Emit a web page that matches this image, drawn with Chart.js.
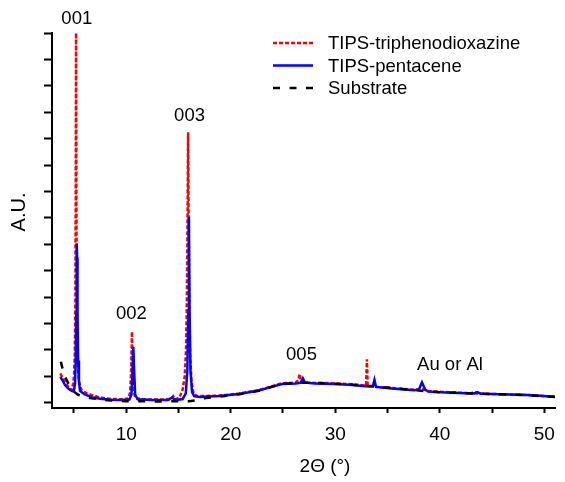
<!DOCTYPE html>
<html>
<head>
<meta charset="utf-8">
<script src="https://cdn.jsdelivr.net/npm/chart.js@4.4.1/dist/chart.umd.min.js"></script>
<style>
  html, body { margin: 0; padding: 0; background: #fff; }
  #wrap { width: 565px; height: 482px; }
</style>
</head>
<body>
<div id="wrap"><canvas id="c" width="565" height="482"></canvas></div>
<script>
// ---- Data ----
const seriesNames = ["TIPS-triphenodioxazine", "TIPS-pentacene", "Substrate"];

const redX = [3.7,3.9,4.2,4.5,4.79,4.92,5.0,5.08,5.13,5.17,5.2,5.23,5.27,5.33,5.45,5.6,5.74,6.2,6.7,7.5,8.3,9.5,10.2,10.38,10.48,10.55,10.62,10.72,10.9,12.0,13.5,14.3,14.5,14.7,15.1,15.4,15.6,15.72,15.8,15.86,15.92,15.98,16.04,16.12,16.25,16.45,16.8,17.9,18.9,20.8,22.7,24.0,24.9,26.2,26.45,26.6,26.75,27.0,28.1,29.4,31.3,32.95,33.03,33.1,33.6,33.75,33.9,35.4,37.6,38.3,38.9,41.1,43.1,43.3,43.5,45.9,48.4,51.0];
const redY = [1.11,0.95,0.75,0.58,0.48,0.73,1.0,1.8,3.7,8.0,14.0,8.0,3.7,1.8,0.9,0.6,0.48,0.36,0.29,0.2,0.15,0.13,0.16,0.4,1.3,2.69,1.3,0.4,0.17,0.12,0.12,0.14,0.25,0.13,0.2,0.5,1.0,2.0,3.8,6.5,10.24,6.5,3.8,1.8,0.8,0.35,0.25,0.26,0.27,0.35,0.48,0.63,0.74,0.76,0.85,1.09,0.8,0.76,0.75,0.74,0.71,0.65,1.64,0.64,0.63,0.8,0.6,0.56,0.49,0.52,0.44,0.39,0.36,0.43,0.35,0.32,0.29,0.23];

const blueX = [3.7,3.9,4.15,4.4,4.63,4.85,5.0,5.1,5.17,5.22,5.26,5.28,5.3,5.34,5.4,5.48,5.58,6.0,6.7,7.5,8.6,9.5,10.3,10.5,10.6,10.68,10.76,10.86,11.1,12.5,14.0,14.4,14.7,15.4,15.7,15.85,15.94,16.0,16.06,16.15,16.3,16.5,17.0,17.9,18.9,20.8,22.7,24.0,24.9,26.2,26.7,26.9,27.1,28.1,29.4,31.3,33.0,33.6,33.75,33.9,35.4,37.6,38.0,38.3,38.6,38.9,41.1,43.3,43.6,43.9,45.9,48.4,51.0];
const blueY = [0.98,0.85,0.67,0.56,0.48,0.44,0.46,0.7,1.6,3.4,5.5,6.03,5.5,3.4,1.6,0.8,0.45,0.32,0.21,0.15,0.11,0.1,0.12,0.3,1.2,2.12,1.2,0.3,0.13,0.1,0.1,0.2,0.1,0.14,0.35,1.2,3.5,7.04,3.5,1.2,0.4,0.25,0.22,0.24,0.25,0.33,0.46,0.61,0.71,0.73,0.76,0.92,0.76,0.73,0.72,0.68,0.62,0.62,0.86,0.6,0.54,0.47,0.5,0.77,0.5,0.42,0.38,0.35,0.4,0.34,0.32,0.29,0.23];

const subX = [3.75,3.9,4.0,4.3,4.6,5.0,5.4,6.0,6.7,7.5,8.6,10.0,11.3,12.5,14.0,15.0,16.0,17.0,17.6,18.9,20.8,22.7,24.0,24.9,26.2,27.5,29.4,31.3,33.0,33.7,35.4,37.6,38.9,41.1,43.3,45.9,48.4,51.0];
const subY = [1.55,1.3,1.11,0.86,0.62,0.42,0.3,0.22,0.17,0.12,0.08,0.06,0.06,0.05,0.05,0.06,0.06,0.1,0.18,0.23,0.32,0.45,0.61,0.71,0.75,0.76,0.73,0.7,0.63,0.62,0.55,0.48,0.42,0.38,0.35,0.32,0.28,0.22];

const xTickStep = 5;
const yTickStep = 1;
const xRange = [2.9, 51.1];
const yRange = [-0.2, 14];

const peakLabels = ["001", "002", "003", "005", "Au or Al"];
const peakLabelX = [5.27, 10.5, 16.06, 26.77, 40.98];
const peakLabelY = [14.55, 3.37, 10.86, 1.81, 1.42];

const xTitle = "2Θ (°)";
const yTitle = "A.U.";

// ---- Build ----
const toPts = (xs, ys) => xs.map((x, i) => ({x: x, y: ys[i]}));
const colors = ["#ff0000", "#0000ff", "#000000"];
const dashes = [[4, 2], [], [7, 9.5]];

const FONT = "'Liberation Sans', Arial, Helvetica, sans-serif";

const overlay = {
  id: 'overlay',
  afterDraw(chart) {
    const ctx = chart.ctx;
    const xs = chart.scales.x, ys = chart.scales.y;
    ctx.save();
    ctx.fillStyle = '#000';
    ctx.textAlign = 'center';
    ctx.textBaseline = 'middle';
    ctx.font = "18.5px " + FONT;
    peakLabels.forEach((t, i) => {
      ctx.fillText(t, xs.getPixelForValue(peakLabelX[i]), ys.getPixelForValue(peakLabelY[i]));
    });
    // axis titles
    ctx.font = "19px " + FONT;
    ctx.fillText(xTitle, 325, 467);
    ctx.save();
    ctx.translate(19, 212);
    ctx.rotate(-Math.PI / 2);
    ctx.font = "20px " + FONT;
    ctx.fillText(yTitle, 0, 0);
    ctx.restore();
    // legend
    ctx.font = "18.5px " + FONT;
    ctx.textAlign = 'left';
    const rowY = [43, 65.5, 88];
    seriesNames.forEach((n, i) => {
      ctx.save();
      ctx.strokeStyle = colors[i];
      ctx.lineWidth = 2.5;
      ctx.setLineDash(dashes[i]);
      ctx.beginPath();
      ctx.moveTo(273, rowY[i]);
      ctx.lineTo(313, rowY[i]);
      ctx.stroke();
      ctx.restore();
      ctx.fillText(n, 328, rowY[i] + 1);
    });
    ctx.restore();
  }
};

const datasets = [
  {label: seriesNames[0], data: toPts(redX, redY), borderColor: colors[0], borderDash: dashes[0], order: 3},
  {label: seriesNames[1], data: toPts(blueX, blueY), borderColor: colors[1], borderDash: dashes[1], order: 2},
  {label: seriesNames[2], data: toPts(subX, subY), borderColor: colors[2], borderDash: dashes[2], order: 1}
].map(d => Object.assign(d, {borderWidth: 2.5, pointRadius: 0, tension: 0, fill: false}));

new Chart(document.getElementById('c'), {
  type: 'line',
  data: {datasets: datasets},
  options: {
    responsive: false,
    animation: false,
    devicePixelRatio: 1,
    layout: {padding: {top: 33, right: 7, left: 0, bottom: 0}},
    plugins: {legend: {display: false}, tooltip: {enabled: false}},
    scales: {
      x: {
        type: 'linear',
        min: xRange[0], max: xRange[1],
        afterFit: s => { s.height = 74; },
        border: {display: true, color: '#000', width: 2},
        grid: {display: true, drawOnChartArea: false, drawTicks: true, tickLength: 5, tickColor: '#000', tickWidth: 2},
        ticks: {
          stepSize: xTickStep, includeBounds: false, autoSkip: false, maxRotation: 0, minRotation: 0,
          padding: 10, color: '#000', font: {family: FONT, size: 19},
          callback: v => (v % 10 === 0 ? String(v) : '')
        }
      },
      y: {
        type: 'linear',
        min: yRange[0], max: yRange[1],
        afterFit: s => { s.width = 52; },
        border: {display: true, color: '#000', width: 2},
        grid: {display: true, drawOnChartArea: false, drawTicks: true, tickLength: 8, tickColor: '#000', tickWidth: 2},
        ticks: {stepSize: yTickStep, includeBounds: false, display: false}
      }
    }
  },
  plugins: [overlay]
});
</script>
</body>
</html>
